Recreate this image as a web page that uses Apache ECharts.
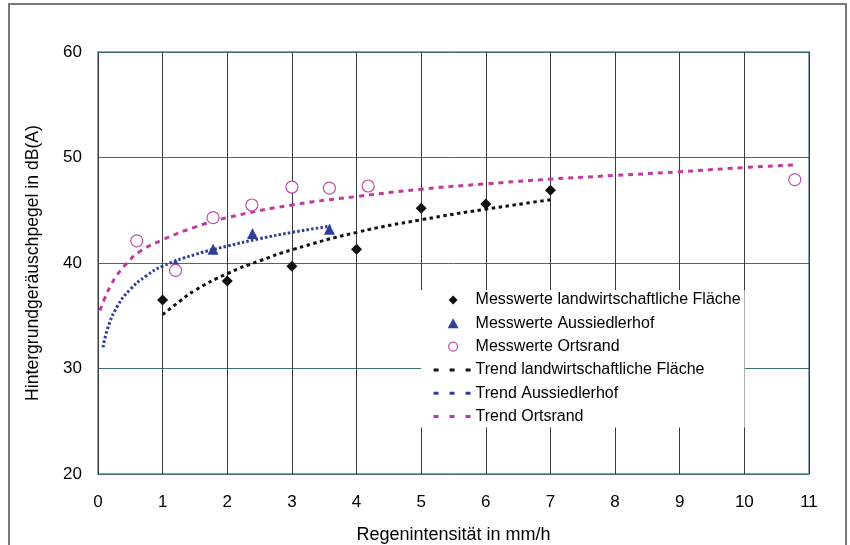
<!DOCTYPE html>
<html>
<head>
<meta charset="utf-8">
<script src="https://cdn.jsdelivr.net/npm/echarts@6/dist/echarts.min.js"></script>
<style>html,body{margin:0;padding:0;background:#fff}#c{width:850px;height:545px}</style>
</head>
<body>
<div id="c"></div>
<script>
// Measured values
var landX = [1, 2, 3, 4, 5, 6, 7];
var landY = [36.5, 38.3, 39.7, 41.3, 45.2, 45.6, 46.9];
var aussX = [1.2, 1.78, 2.39, 3.58];
var aussY = [39.9, 41.3, 42.8, 43.2];
var ortsX = [0.6, 1.2, 1.78, 2.38, 3.0, 3.58, 4.18, 10.78];
var ortsY = [42.1, 39.3, 44.3, 45.5, 47.2, 47.1, 47.3, 47.9];
// Trend curves
var trendLandX = [1, 1.25, 1.5, 2, 2.5, 3, 4, 5, 6, 7];
var trendLandY = [35.1, 36.3, 37.4, 39.0, 40.2, 41.25, 42.9, 44.1, 45.1, 46.0];
var trendAussX = [0.08, 0.15, 0.3, 0.5, 0.75, 1, 1.5, 2, 2.5, 3, 3.6];
var trendAussY = [32.0, 33.8, 35.9, 37.5, 38.8, 39.7, 40.8, 41.6, 42.3, 42.9, 43.5];
var trendOrtsX = [0.03, 0.1, 0.2, 0.3, 0.45, 0.65, 1, 1.5, 2, 3, 4, 5, 6, 7, 8, 9, 10, 10.8];
var trendOrtsY = [35.5, 36.6, 37.9, 38.9, 40.0, 41.1, 42.2, 43.4, 44.3, 45.5, 46.3, 47.0, 47.5, 47.95, 48.3, 48.65, 49.05, 49.3];
var xTicks = [0, 1, 2, 3, 4, 5, 6, 7, 8, 9, 10, 11];
var yTicks = [20, 30, 40, 50, 60];

function pairs(xs, ys) { return xs.map(function (x, i) { return [x, ys[i]]; }); }

var names = ['Messwerte landwirtschaftliche Fläche', 'Messwerte Aussiedlerhof', 'Messwerte Ortsrand',
  'Trend landwirtschaftliche Fläche', 'Trend Aussiedlerhof', 'Trend Ortsrand'];
var C_BLACK = '#111111', C_BLUE = '#2f3e9e', C_MAG = '#c23a9f', C_CIRC = '#c24aa8';
var BOX = ' M0,0 M37,10';
var dashIcon = 'path://M0,3.5h5v3h-5z M16,3.5h5v3h-5z M32,3.5h5v3h-5z' + BOX;
var diamondIcon = 'path://M19.5,0.5L24,5L19.5,9.5L15,5Z' + BOX;
var triIcon = 'path://M19.5,0L25,10H14Z' + BOX;
var circIcon = 'path://M24,5A4.5,4.5 0 1,1 15,5A4.5,4.5 0 1,1 24,5Z' + BOX;
var FONT = 'Liberation Sans, Arial, sans-serif';

var chart = echarts.init(document.getElementById('c'), null, { renderer: 'canvas' });
chart.setOption({
  animation: false,
  backgroundColor: '#fff',
  textStyle: { fontFamily: FONT },
  graphic: [{
    type: 'rect', shape: { x: 9, y: 4, width: 837, height: 560 },
    style: { fill: 'none', stroke: '#7a7a7a', lineWidth: 2 }, z: -1
  }],
  grid: { left: 98, right: 41, top: 52, bottom: 71, show: true, borderColor: '#8fa3ad', borderWidth: 2,
    containLabel: false, outerBoundsMode: 'none' },
  xAxis: {
    type: 'value', min: 0, max: 11, interval: 1,
    name: 'Regenintensität in mm/h', nameLocation: 'middle', nameGap: 52,
    nameTextStyle: { fontSize: 18, color: '#000', fontFamily: FONT },
    axisLine: { show: false }, axisTick: { show: false },
    axisLabel: { fontSize: 17, color: '#000', margin: 20, fontFamily: FONT,
      formatter: function (v) { return xTicks.indexOf(v) >= 0 ? String(v) : ''; } },
    splitLine: { show: true, lineStyle: { color: '#3a3a3a', width: 1 } }
  },
  yAxis: {
    type: 'value', min: 20, max: 60, interval: 10,
    name: 'Hintergrundgeräuschpegel in dB(A)', nameLocation: 'middle', nameGap: 56,
    nameTextStyle: { fontSize: 17.6, color: '#000', fontFamily: FONT },
    axisLine: { show: false }, axisTick: { show: false },
    axisLabel: { fontSize: 17, color: '#000', margin: 16, fontFamily: FONT,
      formatter: function (v) { return yTicks.indexOf(v) >= 0 ? String(v) : ''; } },
    splitLine: { show: true, lineStyle: { color: '#3f6e73', width: 1 } }
  },
  legend: {
    orient: 'vertical', left: 421, top: 290,
    backgroundColor: '#fff', padding: [2, 4, 3, 12],
    itemWidth: 37, itemHeight: 10, itemGap: 7.3,
    textStyle: { fontSize: 16, color: '#000', fontFamily: FONT, padding: [0, 0, 0, 0] },
    data: [
      { name: names[0], icon: diamondIcon },
      { name: names[1], icon: triIcon },
      { name: names[2], icon: circIcon, itemStyle: { color: '#fff', borderColor: C_CIRC, borderWidth: 1.2 } },
      { name: names[3], icon: dashIcon },
      { name: names[4], icon: dashIcon },
      { name: names[5], icon: dashIcon }
    ]
  },
  series: [
    { name: names[0], type: 'scatter', data: pairs(landX, landY), symbol: 'diamond', symbolSize: 11,
      itemStyle: { color: C_BLACK, opacity: 1 }, z: 5 },
    { name: names[1], type: 'scatter', data: pairs(aussX, aussY), symbol: 'triangle', symbolSize: 11,
      itemStyle: { color: C_BLUE, opacity: 1 }, z: 5 },
    { name: names[2], type: 'scatter', data: pairs(ortsX, ortsY), symbol: 'circle', symbolSize: 12,
      itemStyle: { color: '#fff', borderColor: C_CIRC, borderWidth: 1.2, opacity: 1 }, z: 5 },
    { name: names[3], type: 'line', data: pairs(trendLandX, trendLandY), smooth: true, showSymbol: false, symbol: 'none',
      itemStyle: { color: C_BLACK }, lineStyle: { color: C_BLACK, width: 3, type: [3.5, 3.5] }, z: 4 },
    { name: names[4], type: 'line', data: pairs(trendAussX, trendAussY), smooth: true, showSymbol: false, symbol: 'none',
      itemStyle: { color: C_BLUE }, lineStyle: { color: C_BLUE, width: 3, type: [2.5, 2.2] }, z: 4 },
    { name: names[5], type: 'line', data: pairs(trendOrtsX, trendOrtsY), smooth: true, showSymbol: false, symbol: 'none',
      itemStyle: { color: C_MAG }, lineStyle: { color: C_MAG, width: 3, type: [5, 5] }, z: 4 }
  ]
});
</script>
</body>
</html>
